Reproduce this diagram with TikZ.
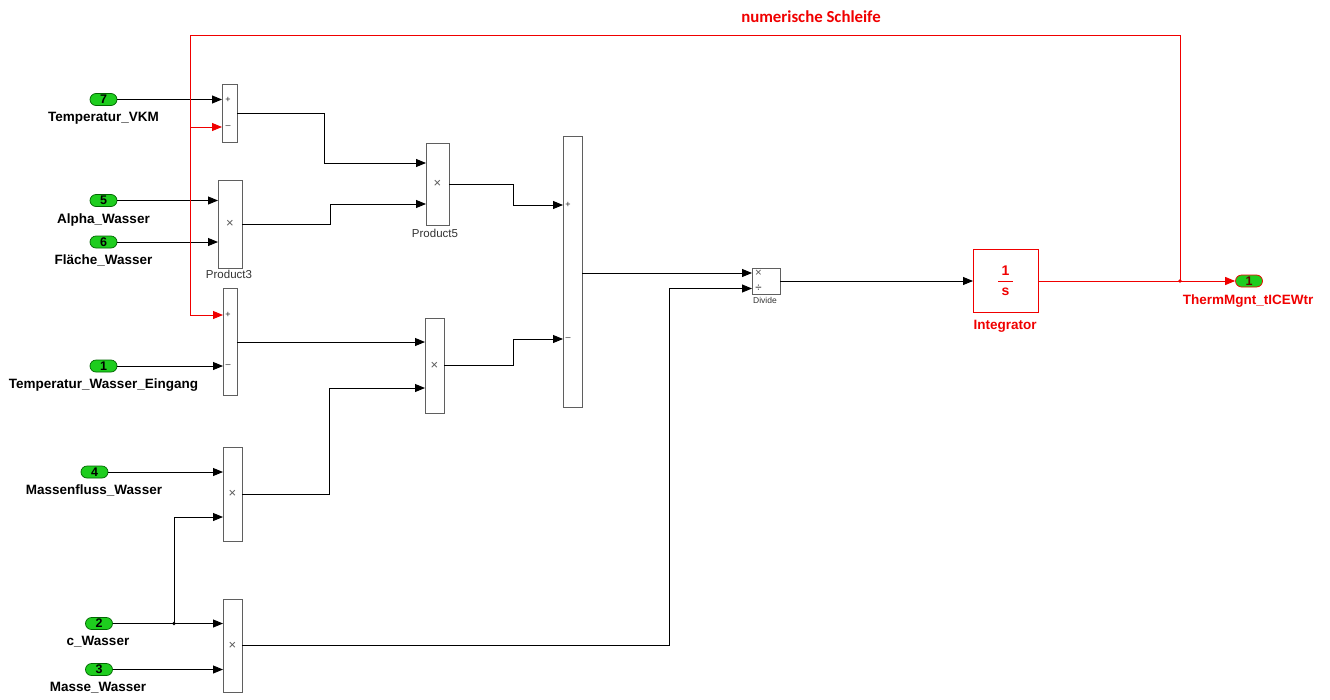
\documentclass[tikz,border=0pt]{standalone}
\usepackage{fontspec}
\setmainfont{Liberation Sans}
\newfontfamily\calib{Carlito}
\usetikzlibrary{arrows.meta,calc}
\definecolor{sred}{RGB}{240,0,0}
\definecolor{sgreen}{RGB}{30,205,30}
\definecolor{bgray}{RGB}{95,95,95}
\begin{document}
\begin{tikzpicture}[x=1pt,y=-1pt,
 blk/.style={draw=bgray,line width=0.9pt,fill=white,inner sep=0,outer sep=0},
 inport/.style={draw=black!60!green,line width=0.7pt,fill=sgreen,rounded corners=6pt,minimum width=27pt,minimum height=12pt,inner sep=0,font=\fontsize{12.5}{12}\selectfont\bfseries},
 plbl/.style={font=\fontsize{13.5}{14}\selectfont\bfseries,anchor=north,inner sep=0},
 blbl/.style={font=\fontsize{11.5}{12}\selectfont,text=black!80,anchor=north,inner sep=0},
 sym/.style={font=\fontsize{9}{9}\selectfont,text=black!85,inner sep=0},
 mul/.style={font=\fontsize{13}{13}\selectfont,text=black!65,inner sep=0},
 sig/.style={line width=0.9pt,-{Triangle[length=10pt,width=8pt]}},
 rsig/.style={draw=sred,line width=0.9pt,-{Triangle[length=10pt,width=8pt]}},
 rline/.style={draw=sred,line width=0.9pt}
]
\useasboundingbox (0,0) rectangle (1330,699);
\fill[white] (0,0) rectangle (1330,699);

% title
\node[text=sred,font=\calib\fontsize{16.8}{17}\selectfont\bfseries,inner sep=0] (title) at (811,17) {numerische Schleife};

% inports
\node[inport] (i7) at (103.5,99.5) {7};
\node[plbl] (l7) at (103.5,112.5) {Temperatur\_VKM};
\node[inport] (i5) at (103.5,200.5) {5};
\node[plbl] (l5) at (103.5,213.5) {Alpha\_Wasser};
\node[inport] (i6) at (103.5,242) {6};
\node[plbl] (l6) at (103.5,255) {Fläche\_Wasser};
\node[inport] (i1) at (103.5,366) {1};
\node[plbl] (l1) at (103.5,379) {Temperatur\_Wasser\_Eingang};
\node[inport] (i4) at (94.5,472) {4};
\node[plbl] (l4) at (94,485) {Massenfluss\_Wasser};
\node[inport] (i2) at (99,623.5) {2};
\node[plbl] (l2) at (98,636.5) {c\_Wasser};
\node[inport] (i3) at (99,669.5) {3};
\node[plbl] (l3) at (98,682.5) {Masse\_Wasser};

% blocks
\node[blk,minimum width=15pt,minimum height=58pt] (s1) at (229.5,113) {};
\node[blk,minimum width=24pt,minimum height=88pt] (p3) at (230,224) {};
\node[blk,minimum width=14pt,minimum height=107pt] (s2) at (230,342) {};
\node[blk,minimum width=23pt,minimum height=82pt] (p5) at (437.5,184) {};
\node[blk,minimum width=19pt,minimum height=271pt] (bs) at (572.5,272) {};
\node[blk,minimum width=19pt,minimum height=95pt] (pm) at (434.5,365.5) {};
\node[blk,minimum width=19pt,minimum height=94pt] (p4) at (232.5,494) {};
\node[blk,minimum width=19pt,minimum height=93pt] (p6) at (232.5,645.5) {};
\node[blk,minimum width=28pt,minimum height=26pt] (dv) at (766,281) {};
\node[blk,draw=sred,minimum width=65pt,minimum height=63pt] (ig) at (1005.5,281) {};
\node[inport,draw=sred] (o1) at (1249,281) {\textcolor{black!60!red}{1}};

% block contents
\node[sym] (s1a) at (228,100) {+};
\node[sym] (s1b) at (228,127) {\textendash};
\node[sym] (s2a) at (228,315) {+};
\node[sym] (s2b) at (228,366) {\textendash};
\node[sym] (bsa) at (568,205) {+};
\node[sym] (bsb) at (568,339) {\textendash};
\node[mul] (m3) at (p3) {×};
\node[mul] (m5) at (p5) {×};
\node[mul] (mm) at (pm) {×};
\node[mul] (m4) at (p4) {×};
\node[mul] (m6) at (p6) {×};
\node[mul,font=\fontsize{11.5}{11}\selectfont] (dva) at (758.5,273) {×};
\node[mul,font=\fontsize{11.5}{11}\selectfont,text=black!85] (dvb) at (758.5,288.5) {÷};
\node[text=sred,font=\fontsize{14}{14}\selectfont\bfseries,inner sep=0] (ign) at (1005.5,271) {1};
\draw[sred,line width=0.9pt] (998,281.5) -- (1013,281.5);
\node[text=sred,font=\fontsize{14}{14}\selectfont\bfseries,inner sep=0] (igd) at (1005.5,292) {s};

% block labels
\node[blbl] (lp3) at (229,269.5) {Product3};
\node[blbl] (lp5) at (435,228.5) {Product5};
\node[blbl,font=\fontsize{8.5}{9}\selectfont] (ldv) at (765,297) {Divide};
\node[plbl,text=sred] (lig) at (1005,320) {Integrator};
\node[plbl,text=sred] (lo1) at (1248,294.5) {ThermMgnt\_tICEWtr};

% helper coordinates
\coordinate (k1) at (324,163);
\coordinate (k2) at (330,204);
\coordinate (k3) at (513,205);
\coordinate (k4) at (513,339);
\coordinate (k5) at (329,388);
\coordinate (j2) at (174,623.5);
\coordinate (k6) at (174,517);
\coordinate (k7) at (669,288.5);
\coordinate (jx) at (1180,0);
\coordinate (t1) at (190,35);
\coordinate (k8) at (190,315);
\coordinate (k9) at (190,127);
\coordinate (d1) at (0,273);

% connectors
\draw[sig] (i7) -- (i7 -| s1.west);
\draw[sig] (i5) -- (i5 -| p3.west);
\draw[sig] (i6) -- (i6 -| p3.west);
\draw[sig] (i1) -- (i1 -| s2.west);
\draw[sig] (i4) -- (i4 -| p4.west);
\draw[sig] (i2) -- (i2 -| p6.west);
\draw[sig] (i3) -- (i3 -| p6.west);
\draw[sig] (j2) -- (k6) -- (k6 -| p4.west);
\fill (j2) circle (1.8pt);
\draw[sig] (s1.east) -| (k1) -- (k1 -| p5.west);
\draw[sig] (p3.east) -| (k2) -- (k2 -| p5.west);
\draw[sig] (p5.east) -| (k3) -- (k3 -| bs.west);
\draw[sig] (s2.east) -- (s2.east -| pm.west);
\draw[sig] (pm.east) -| (k4) -- (k4 -| bs.west);
\draw[sig] (p4.east) -| (k5) -- (k5 -| pm.west);
\draw[sig] (p6.east) -| (k7) -- (k7 -| dv.west);
\draw[sig] (bs.east |- d1) -- (d1 -| dv.west);
\draw[sig] (dv.east) -- (ig.west);
\draw[rsig] (ig.east) -- (o1.west);
\coordinate (jr) at (ig.east -| jx);
\fill[sred] (jr) circle (1.8pt);
\draw[rsig] (jr) |- (t1) -- (k8) -- (k8 -| s2.west);
\draw[rsig] (k9) -- (k9 -| s1.west);
\end{tikzpicture}
\end{document}
